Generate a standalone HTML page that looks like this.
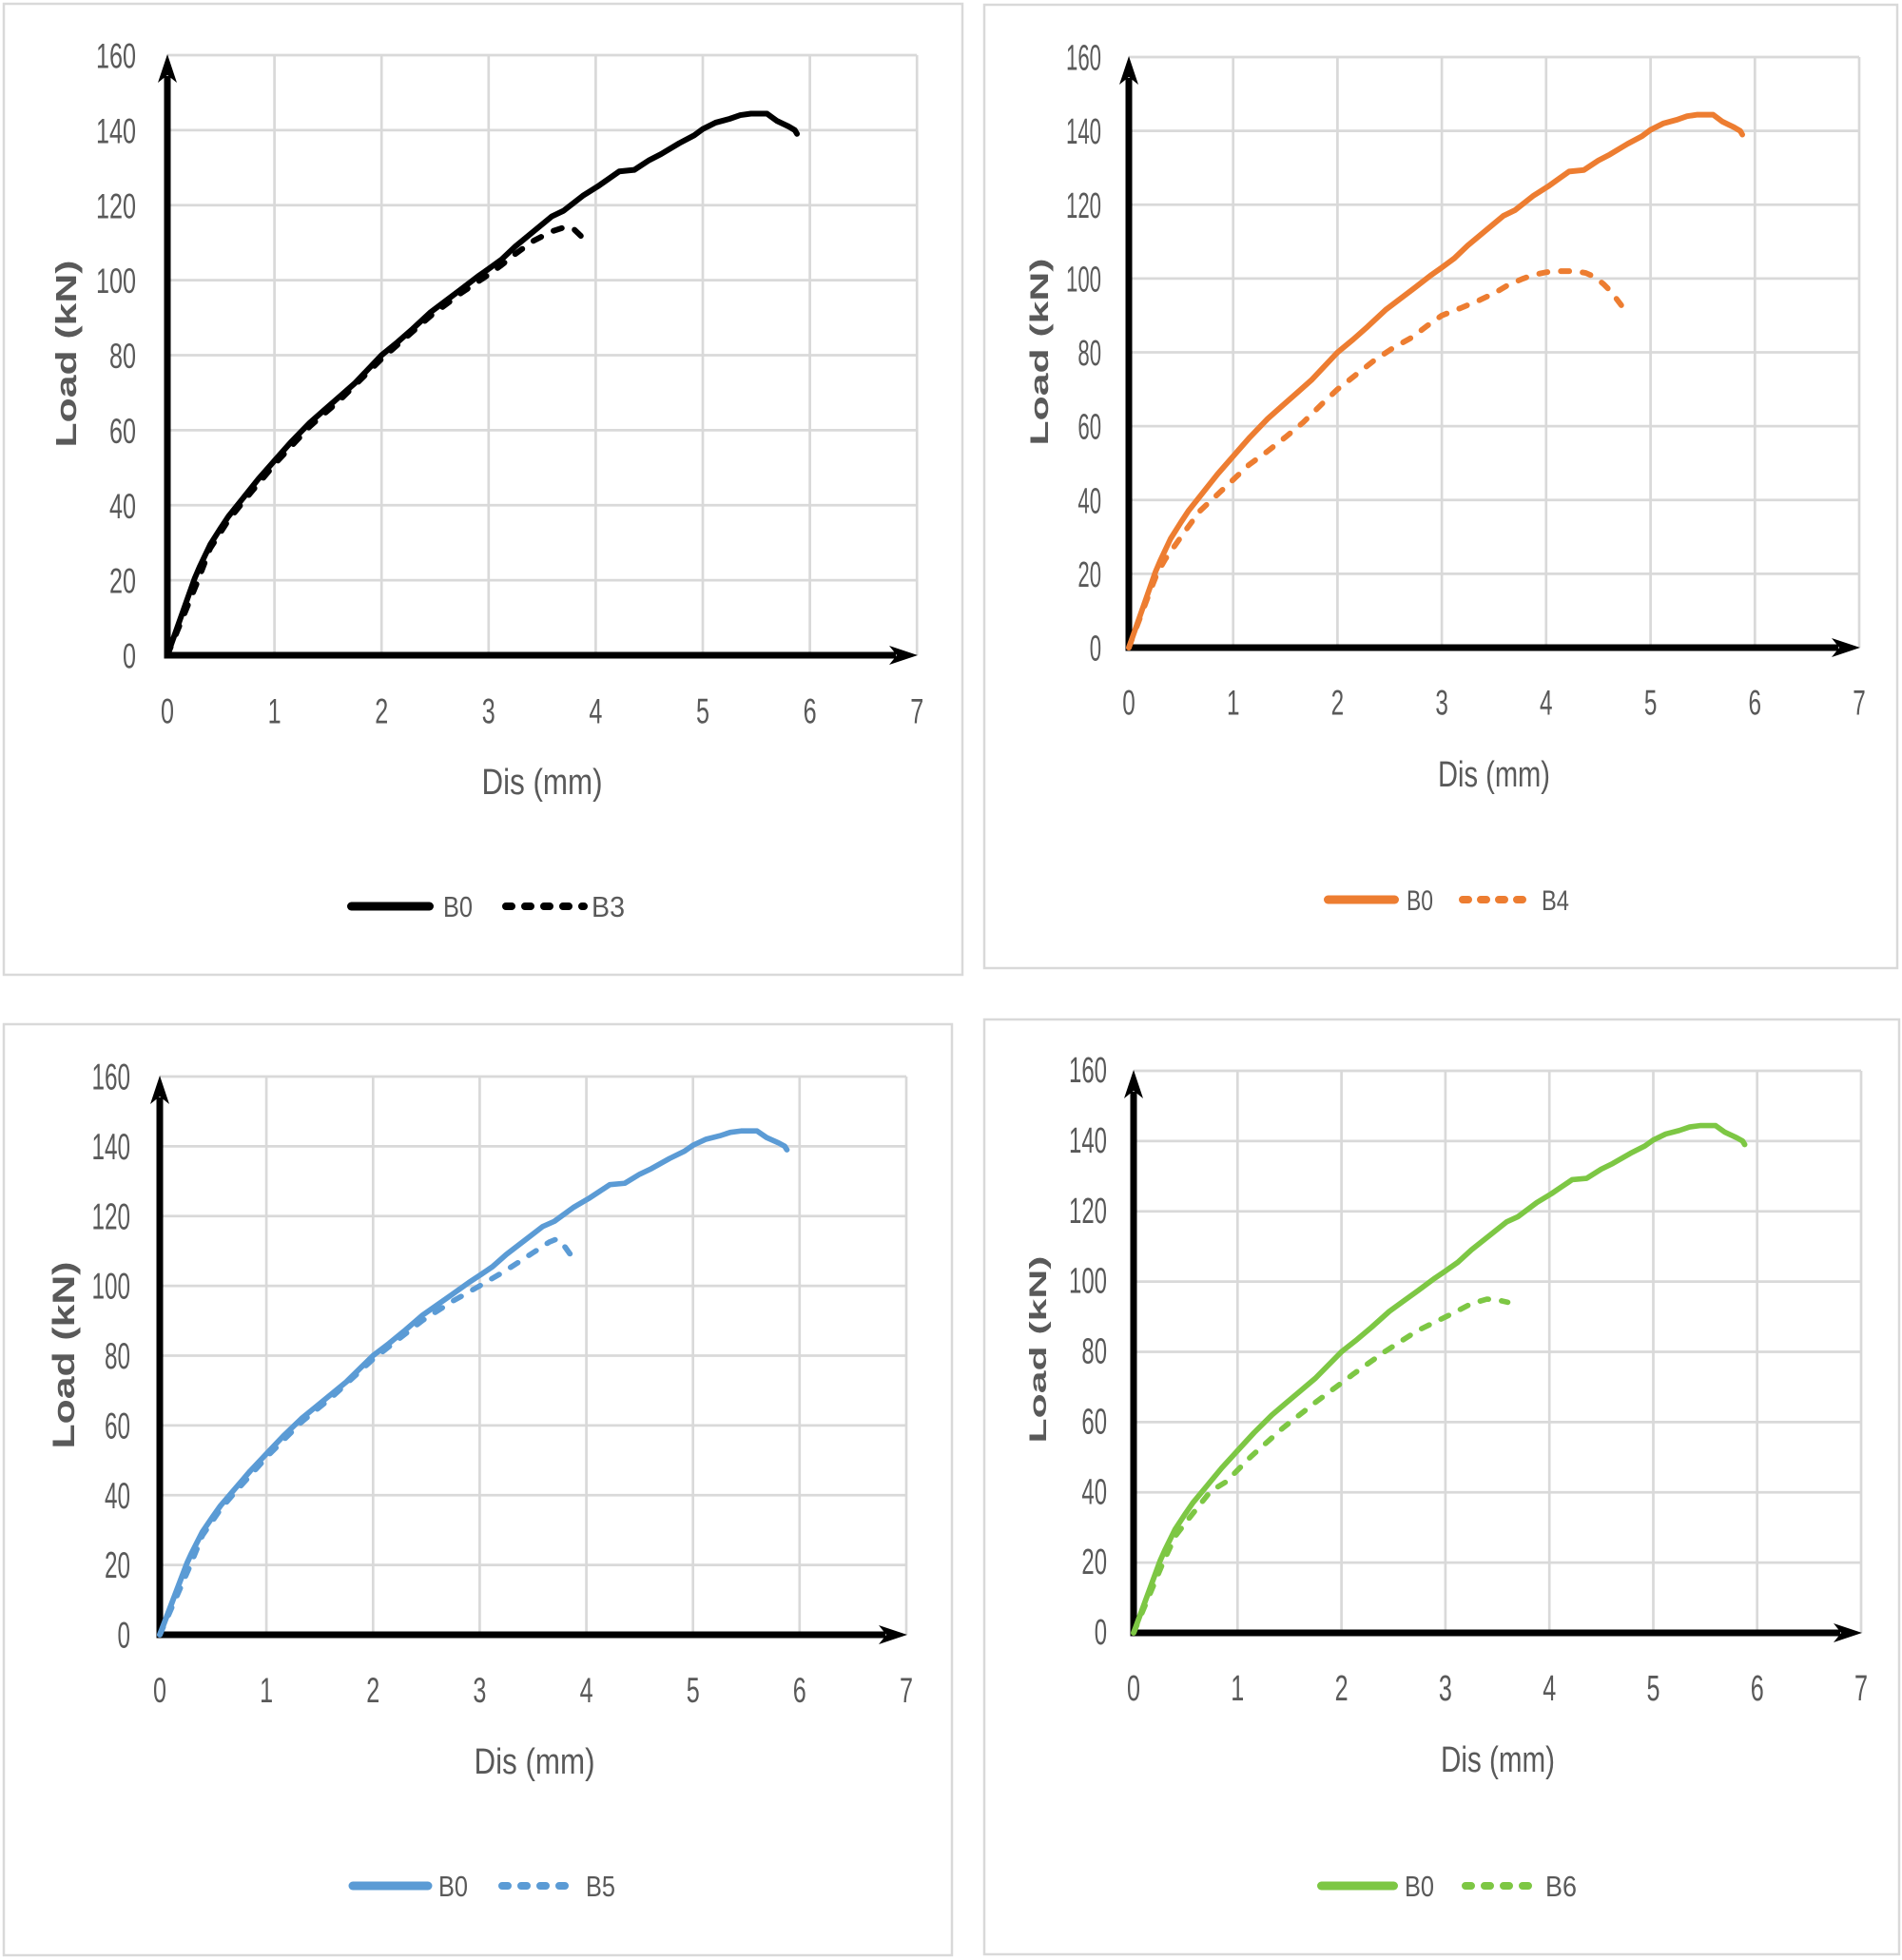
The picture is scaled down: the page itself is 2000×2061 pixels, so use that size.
<!DOCTYPE html>
<html>
<head>
<meta charset="utf-8">
<style>
html,body{margin:0;padding:0;background:#fff;}
svg{display:block;}
.tk{font-family:"Liberation Sans",sans-serif;fill:#595959;}
.ttl{font-family:"Liberation Sans",sans-serif;fill:#595959;}
.lt{font-family:"Liberation Sans",sans-serif;fill:#595959;font-weight:bold;}
.grid{stroke:#d9d9d9;stroke-width:2.7;fill:none;}
.panel{stroke:#d9d9d9;stroke-width:2.5;fill:#fff;}
.ax{stroke:#000;stroke-width:7;fill:none;}
.sol{fill:none;stroke-width:5.8;stroke-linejoin:round;stroke-linecap:round;}
.dsh{fill:none;stroke-width:5.8;stroke-linejoin:round;stroke-linecap:round;stroke-dasharray:9 14;}
</style>
</head>
<body>
<svg width="2000" height="2061" viewBox="0 0 2000 2061" xmlns="http://www.w3.org/2000/svg">
<rect x="0" y="0" width="2000" height="2061" fill="#fff"/>

<!-- ================= TOP LEFT ================= -->
<rect class="panel" x="4" y="4" width="1008" height="1021"/>
<path class="grid" d="M288.6 689V58M401.2 689V58M513.8 689V58M626.4 689V58M739 689V58M851.6 689V58M964.2 689V58"/>
<path class="grid" d="M176 610.1H964.2M176 531.25H964.2M176 452.4H964.2M176 373.5H964.2M176 294.6H964.2M176 215.75H964.2M176 136.9H964.2M176 58H964.2"/>
<g class="tk" font-size="37" text-anchor="end">
<text x="143" y="702.5" textLength="14" lengthAdjust="spacingAndGlyphs">0</text>
<text x="143" y="623.6" textLength="28" lengthAdjust="spacingAndGlyphs">20</text>
<text x="143" y="544.75" textLength="28" lengthAdjust="spacingAndGlyphs">40</text>
<text x="143" y="465.9" textLength="28" lengthAdjust="spacingAndGlyphs">60</text>
<text x="143" y="387" textLength="28" lengthAdjust="spacingAndGlyphs">80</text>
<text x="143" y="308.1" textLength="42" lengthAdjust="spacingAndGlyphs">100</text>
<text x="143" y="229.25" textLength="42" lengthAdjust="spacingAndGlyphs">120</text>
<text x="143" y="150.4" textLength="42" lengthAdjust="spacingAndGlyphs">140</text>
<text x="143" y="71.5" textLength="42" lengthAdjust="spacingAndGlyphs">160</text>
</g>
<g class="tk" font-size="37" text-anchor="middle">
<text x="176" y="760.5" textLength="14" lengthAdjust="spacingAndGlyphs">0</text>
<text x="288.6" y="760.5" textLength="14" lengthAdjust="spacingAndGlyphs">1</text>
<text x="401.2" y="760.5" textLength="14" lengthAdjust="spacingAndGlyphs">2</text>
<text x="513.8" y="760.5" textLength="14" lengthAdjust="spacingAndGlyphs">3</text>
<text x="626.4" y="760.5" textLength="14" lengthAdjust="spacingAndGlyphs">4</text>
<text x="739" y="760.5" textLength="14" lengthAdjust="spacingAndGlyphs">5</text>
<text x="851.6" y="760.5" textLength="14" lengthAdjust="spacingAndGlyphs">6</text>
<text x="964.2" y="760.5" textLength="14" lengthAdjust="spacingAndGlyphs">7</text>
</g>
<text class="ttl" x="570" y="835" font-size="38" text-anchor="middle" textLength="127" lengthAdjust="spacingAndGlyphs">Dis (mm)</text>
<text class="lt" transform="translate(80,372) rotate(-90)" font-size="31" text-anchor="middle" textLength="197" lengthAdjust="spacingAndGlyphs">Load (kN)</text>
<path class="ax" d="M176 692.5V80"/>
<polygon points="176,57 166,87 176,79 186,87" fill="#000"/>
<path class="ax" d="M172.5 689H942"/>
<polygon points="965,689 935,679 943,689 935,699" fill="#000"/>
<g transform="translate(176,689) scale(1.0236,1.0379)" stroke="#000">
<polyline class="dsh" points="0,0 30.8,-74.1 44,-108.3 62.7,-136.8 78.1,-155.8 112.2,-195.7 146.3,-231.8 177.1,-258.4 220,-300.2 270.6,-343.9 301.4,-366.7 330,-385.7 343.2,-395.2 357.5,-406.6 376.2,-419.9 394.9,-429.4 410.3,-434.3 418,-431.3 426.8,-422.9"/>
<polyline class="sol" points="0,0 28.05,-77.9 33,-89.3 44,-112.1 55,-129.2 62.7,-140.6 78.1,-159.6 93.5,-178.6 112.2,-199.5 127.6,-216.6 146.3,-235.6 161.7,-248.9 177.1,-262.2 192.5,-275.5 209,-292.6 220,-304 236.5,-317.3 251.9,-330.6 270.6,-347.7 286,-359.1 301.4,-370.5 319,-383.8 330,-391.4 343.2,-400.9 357.5,-414.2 376.2,-429.4 394.9,-444.6 407,-450.3 426.8,-465.5 442.2,-475 453.2,-482.6 464.2,-490.2 479.6,-491.7 495,-501.6 507.1,-507.7 525.8,-518.7 541.2,-526.7 550,-533.1 563.2,-539.6 577.5,-543.4 588.5,-547.2 599.5,-548.7 616,-548.7 625.9,-541.5 638,-535.8 644.6,-532 646.8,-528.2"/>
</g>
<line x1="369.5" y1="953" x2="451.5" y2="953" stroke="#000" stroke-width="9" stroke-linecap="round"/>
<text class="tk" x="466" y="964" font-size="31" textLength="31" lengthAdjust="spacingAndGlyphs">B0</text>
<line x1="532" y1="953" x2="614" y2="953" stroke="#000" stroke-width="8" stroke-linecap="round" stroke-dasharray="6 14"/>
<text class="tk" x="622" y="964" font-size="31" textLength="35" lengthAdjust="spacingAndGlyphs">B3</text>

<!-- ================= TOP RIGHT ================= -->
<rect class="panel" x="1035" y="5" width="960" height="1013"/>
<path class="grid" d="M1296.7 681V60M1406.4 681V60M1516.1 681V60M1625.8 681V60M1735.6 681V60M1845.3 681V60M1955 681V60"/>
<path class="grid" d="M1187 603.4H1955M1187 525.75H1955M1187 448.1H1955M1187 370.5H1955M1187 292.9H1955M1187 215.25H1955M1187 137.6H1955M1187 60H1955"/>
<g class="tk" font-size="38" text-anchor="end">
<text x="1158" y="694.5" textLength="12.3" lengthAdjust="spacingAndGlyphs">0</text>
<text x="1158" y="616.9" textLength="24.6" lengthAdjust="spacingAndGlyphs">20</text>
<text x="1158" y="539.25" textLength="24.6" lengthAdjust="spacingAndGlyphs">40</text>
<text x="1158" y="461.6" textLength="24.6" lengthAdjust="spacingAndGlyphs">60</text>
<text x="1158" y="384" textLength="24.6" lengthAdjust="spacingAndGlyphs">80</text>
<text x="1158" y="306.4" textLength="37" lengthAdjust="spacingAndGlyphs">100</text>
<text x="1158" y="228.75" textLength="37" lengthAdjust="spacingAndGlyphs">120</text>
<text x="1158" y="151.1" textLength="37" lengthAdjust="spacingAndGlyphs">140</text>
<text x="1158" y="73.5" textLength="37" lengthAdjust="spacingAndGlyphs">160</text>
</g>
<g class="tk" font-size="37" text-anchor="middle">
<text x="1187" y="751.5" textLength="13.5" lengthAdjust="spacingAndGlyphs">0</text>
<text x="1296.7" y="751.5" textLength="13.5" lengthAdjust="spacingAndGlyphs">1</text>
<text x="1406.4" y="751.5" textLength="13.5" lengthAdjust="spacingAndGlyphs">2</text>
<text x="1516.1" y="751.5" textLength="13.5" lengthAdjust="spacingAndGlyphs">3</text>
<text x="1625.8" y="751.5" textLength="13.5" lengthAdjust="spacingAndGlyphs">4</text>
<text x="1735.6" y="751.5" textLength="13.5" lengthAdjust="spacingAndGlyphs">5</text>
<text x="1845.3" y="751.5" textLength="13.5" lengthAdjust="spacingAndGlyphs">6</text>
<text x="1955" y="751.5" textLength="13.5" lengthAdjust="spacingAndGlyphs">7</text>
</g>
<text class="ttl" x="1571" y="827" font-size="38" text-anchor="middle" textLength="118" lengthAdjust="spacingAndGlyphs">Dis (mm)</text>
<text class="lt" transform="translate(1102,370) rotate(-90)" font-size="27" text-anchor="middle" textLength="197" lengthAdjust="spacingAndGlyphs">Load (kN)</text>
<path class="ax" d="M1187 684.5V82"/>
<polygon points="1187,59 1177,89 1187,81 1197,89" fill="#000"/>
<path class="ax" d="M1183.5 681H1933"/>
<polygon points="1956,681 1926,671 1934,681 1926,691" fill="#000"/>
<g transform="translate(1187,681) scale(0.9974,1.0213)" stroke="#ED7D31">
<polyline class="dsh" points="0,0 22,-57 29.7,-76 38.5,-91.2 49.5,-106.4 60.5,-121.6 74.8,-140.6 93.5,-157.7 110,-172.9 126.5,-188.1 145.2,-201.4 165,-216.6 183.7,-231.8 203.5,-250.8 220,-266 239.8,-281.2 259.6,-296.4 280.5,-309.7 298.1,-319.2 313.5,-330.6 330,-342 349.8,-349.6 368.5,-357.2 385,-364.8 401.5,-374.3 415.8,-380 426.8,-383.8 440,-386.5 452.1,-387.6 470.8,-387.6 481.8,-385.7 490.6,-381.9 500.5,-374.3 508.2,-366.7 519.2,-352.6"/>
<polyline class="sol" points="0,0 28.05,-77.9 33,-89.3 44,-112.1 55,-129.2 62.7,-140.6 78.1,-159.6 93.5,-178.6 112.2,-199.5 127.6,-216.6 146.3,-235.6 161.7,-248.9 177.1,-262.2 192.5,-275.5 209,-292.6 220,-304 236.5,-317.3 251.9,-330.6 270.6,-347.7 286,-359.1 301.4,-370.5 319,-383.8 330,-391.4 343.2,-400.9 357.5,-414.2 376.2,-429.4 394.9,-444.6 407,-450.3 426.8,-465.5 442.2,-475 453.2,-482.6 464.2,-490.2 479.6,-491.7 495,-501.6 507.1,-507.7 525.8,-518.7 541.2,-526.7 550,-533.1 563.2,-539.6 577.5,-543.4 588.5,-547.2 599.5,-548.7 616,-548.7 625.9,-541.5 638,-535.8 644.6,-532 646.8,-528.2"/>
</g>
<line x1="1396.5" y1="946" x2="1466.5" y2="946" stroke="#ED7D31" stroke-width="9" stroke-linecap="round"/>
<text class="tk" x="1479" y="957" font-size="30" textLength="28" lengthAdjust="spacingAndGlyphs">B0</text>
<line x1="1538" y1="946" x2="1611" y2="946" stroke="#ED7D31" stroke-width="8" stroke-linecap="round" stroke-dasharray="6 13"/>
<text class="tk" x="1621" y="957" font-size="30" textLength="29" lengthAdjust="spacingAndGlyphs">B4</text>

<!-- ================= BOTTOM LEFT ================= -->
<rect class="panel" x="4" y="1077" width="997" height="979"/>
<path class="grid" d="M280.1 1719V1132M392.3 1719V1132M504.4 1719V1132M616.6 1719V1132M728.7 1719V1132M840.8 1719V1132M953 1719V1132"/>
<path class="grid" d="M168 1645.6H953M168 1572.25H953M168 1498.9H953M168 1425.5H953M168 1352.1H953M168 1278.75H953M168 1205.4H953M168 1132H953"/>
<g class="tk" font-size="39" text-anchor="end">
<text x="137" y="1732.5" textLength="13.5" lengthAdjust="spacingAndGlyphs">0</text>
<text x="137" y="1659.1" textLength="27" lengthAdjust="spacingAndGlyphs">20</text>
<text x="137" y="1585.75" textLength="27" lengthAdjust="spacingAndGlyphs">40</text>
<text x="137" y="1512.4" textLength="27" lengthAdjust="spacingAndGlyphs">60</text>
<text x="137" y="1439" textLength="27" lengthAdjust="spacingAndGlyphs">80</text>
<text x="137" y="1365.6" textLength="40.5" lengthAdjust="spacingAndGlyphs">100</text>
<text x="137" y="1292.25" textLength="40.5" lengthAdjust="spacingAndGlyphs">120</text>
<text x="137" y="1218.9" textLength="40.5" lengthAdjust="spacingAndGlyphs">140</text>
<text x="137" y="1145.5" textLength="40.5" lengthAdjust="spacingAndGlyphs">160</text>
</g>
<g class="tk" font-size="37" text-anchor="middle">
<text x="168" y="1790" textLength="14" lengthAdjust="spacingAndGlyphs">0</text>
<text x="280.1" y="1790" textLength="14" lengthAdjust="spacingAndGlyphs">1</text>
<text x="392.3" y="1790" textLength="14" lengthAdjust="spacingAndGlyphs">2</text>
<text x="504.4" y="1790" textLength="14" lengthAdjust="spacingAndGlyphs">3</text>
<text x="616.6" y="1790" textLength="14" lengthAdjust="spacingAndGlyphs">4</text>
<text x="728.7" y="1790" textLength="14" lengthAdjust="spacingAndGlyphs">5</text>
<text x="840.8" y="1790" textLength="14" lengthAdjust="spacingAndGlyphs">6</text>
<text x="953" y="1790" textLength="14" lengthAdjust="spacingAndGlyphs">7</text>
</g>
<text class="ttl" x="562" y="1865" font-size="38" text-anchor="middle" textLength="127" lengthAdjust="spacingAndGlyphs">Dis (mm)</text>
<text class="lt" transform="translate(78,1425) rotate(-90)" font-size="32" text-anchor="middle" textLength="197" lengthAdjust="spacingAndGlyphs">Load (kN)</text>
<path class="ax" d="M168 1722.5V1154"/>
<polygon points="168,1131 158,1161 168,1153 178,1161" fill="#000"/>
<path class="ax" d="M164.5 1719H931"/>
<polygon points="954,1719 924,1709 932,1719 924,1729" fill="#000"/>
<g transform="translate(168,1719) scale(1.0195,0.9655)" stroke="#5B9BD5">
<polyline class="dsh" points="0,0 30.8,-74.1 44,-108.3 62.7,-136.8 78.1,-155.8 112.2,-195.7 146.3,-231.8 177.1,-258.4 220,-300.2 270.6,-342 301.4,-362.9 330,-380 357.5,-397.1 385,-416.1 401.5,-427.5 409.2,-430.9 415.8,-425.6 423.5,-414.2"/>
<polyline class="sol" points="0,0 28.05,-77.9 33,-89.3 44,-112.1 55,-129.2 62.7,-140.6 78.1,-159.6 93.5,-178.6 112.2,-199.5 127.6,-216.6 146.3,-235.6 161.7,-248.9 177.1,-262.2 192.5,-275.5 209,-292.6 220,-304 236.5,-317.3 251.9,-330.6 270.6,-347.7 286,-359.1 301.4,-370.5 319,-383.8 330,-391.4 343.2,-400.9 357.5,-414.2 376.2,-429.4 394.9,-444.6 407,-450.3 426.8,-465.5 442.2,-475 453.2,-482.6 464.2,-490.2 479.6,-491.7 495,-501.6 507.1,-507.7 525.8,-518.7 541.2,-526.7 550,-533.1 563.2,-539.6 577.5,-543.4 588.5,-547.2 599.5,-548.7 616,-548.7 625.9,-541.5 638,-535.8 644.6,-532 646.8,-528.2"/>
</g>
<line x1="371" y1="1983" x2="450" y2="1983" stroke="#5B9BD5" stroke-width="9" stroke-linecap="round"/>
<text class="tk" x="461" y="1994" font-size="31" textLength="31" lengthAdjust="spacingAndGlyphs">B0</text>
<line x1="528" y1="1983" x2="608" y2="1983" stroke="#5B9BD5" stroke-width="8" stroke-linecap="round" stroke-dasharray="6 14"/>
<text class="tk" x="616" y="1994" font-size="31" textLength="31" lengthAdjust="spacingAndGlyphs">B5</text>

<!-- ================= BOTTOM RIGHT ================= -->
<rect class="panel" x="1035" y="1072" width="962" height="983"/>
<path class="grid" d="M1301.3 1717V1126M1410.6 1717V1126M1519.9 1717V1126M1629.2 1717V1126M1738.5 1717V1126M1847.7 1717V1126M1957 1717V1126"/>
<path class="grid" d="M1192 1643.1H1957M1192 1569.25H1957M1192 1495.4H1957M1192 1421.5H1957M1192 1347.6H1957M1192 1273.75H1957M1192 1199.9H1957M1192 1126H1957"/>
<g class="tk" font-size="38" text-anchor="end">
<text x="1164" y="1729" textLength="13.3" lengthAdjust="spacingAndGlyphs">0</text>
<text x="1164" y="1655.1" textLength="26.6" lengthAdjust="spacingAndGlyphs">20</text>
<text x="1164" y="1581.25" textLength="26.6" lengthAdjust="spacingAndGlyphs">40</text>
<text x="1164" y="1507.4" textLength="26.6" lengthAdjust="spacingAndGlyphs">60</text>
<text x="1164" y="1433.5" textLength="26.6" lengthAdjust="spacingAndGlyphs">80</text>
<text x="1164" y="1359.6" textLength="40" lengthAdjust="spacingAndGlyphs">100</text>
<text x="1164" y="1285.75" textLength="40" lengthAdjust="spacingAndGlyphs">120</text>
<text x="1164" y="1211.9" textLength="40" lengthAdjust="spacingAndGlyphs">140</text>
<text x="1164" y="1138" textLength="40" lengthAdjust="spacingAndGlyphs">160</text>
</g>
<g class="tk" font-size="38" text-anchor="middle">
<text x="1192" y="1788" textLength="14" lengthAdjust="spacingAndGlyphs">0</text>
<text x="1301.3" y="1788" textLength="14" lengthAdjust="spacingAndGlyphs">1</text>
<text x="1410.6" y="1788" textLength="14" lengthAdjust="spacingAndGlyphs">2</text>
<text x="1519.9" y="1788" textLength="14" lengthAdjust="spacingAndGlyphs">3</text>
<text x="1629.2" y="1788" textLength="14" lengthAdjust="spacingAndGlyphs">4</text>
<text x="1738.5" y="1788" textLength="14" lengthAdjust="spacingAndGlyphs">5</text>
<text x="1847.7" y="1788" textLength="14" lengthAdjust="spacingAndGlyphs">6</text>
<text x="1957" y="1788" textLength="14" lengthAdjust="spacingAndGlyphs">7</text>
</g>
<text class="ttl" x="1575" y="1863" font-size="38" text-anchor="middle" textLength="120" lengthAdjust="spacingAndGlyphs">Dis (mm)</text>
<text class="lt" transform="translate(1100,1419) rotate(-90)" font-size="25" text-anchor="middle" textLength="197" lengthAdjust="spacingAndGlyphs">Load (kN)</text>
<path class="ax" d="M1192 1720.5V1148"/>
<polygon points="1192,1125 1182,1155 1192,1147 1202,1155" fill="#000"/>
<path class="ax" d="M1188.5 1717H1935"/>
<polygon points="1958,1717 1928,1707 1936,1717 1928,1727" fill="#000"/>
<g transform="translate(1192,1717) scale(0.9935,0.9721)" stroke="#7DC744">
<polyline class="dsh" points="0,0 30.4,-74.1 44,-104.5 57.2,-122 81.4,-153.1 97.9,-163.4 124.3,-190.8 158.4,-221.9 192.5,-249.3 233.2,-280.4 266.2,-304.4 300.3,-326.8 334.4,-343.9 357.5,-356.1 374,-361 385,-360.2 396,-357.6"/>
<polyline class="sol" points="0,0 28.05,-77.9 33,-89.3 44,-112.1 55,-129.2 62.7,-140.6 78.1,-159.6 93.5,-178.6 112.2,-199.5 127.6,-216.6 146.3,-235.6 161.7,-248.9 177.1,-262.2 192.5,-275.5 209,-292.6 220,-304 236.5,-317.3 251.9,-330.6 270.6,-347.7 286,-359.1 301.4,-370.5 319,-383.8 330,-391.4 343.2,-400.9 357.5,-414.2 376.2,-429.4 394.9,-444.6 407,-450.3 426.8,-465.5 442.2,-475 453.2,-482.6 464.2,-490.2 479.6,-491.7 495,-501.6 507.1,-507.7 525.8,-518.7 541.2,-526.7 550,-533.1 563.2,-539.6 577.5,-543.4 588.5,-547.2 599.5,-548.7 616,-548.7 625.9,-541.5 638,-535.8 644.6,-532 646.8,-528.2"/>
</g>
<line x1="1389.5" y1="1983" x2="1465.5" y2="1983" stroke="#7DC744" stroke-width="9" stroke-linecap="round"/>
<text class="tk" x="1477" y="1994" font-size="31" textLength="31" lengthAdjust="spacingAndGlyphs">B0</text>
<line x1="1541" y1="1983" x2="1616" y2="1983" stroke="#7DC744" stroke-width="8" stroke-linecap="round" stroke-dasharray="6 14"/>
<text class="tk" x="1625" y="1994" font-size="31" textLength="33" lengthAdjust="spacingAndGlyphs">B6</text>
</svg>
</body>
</html>
